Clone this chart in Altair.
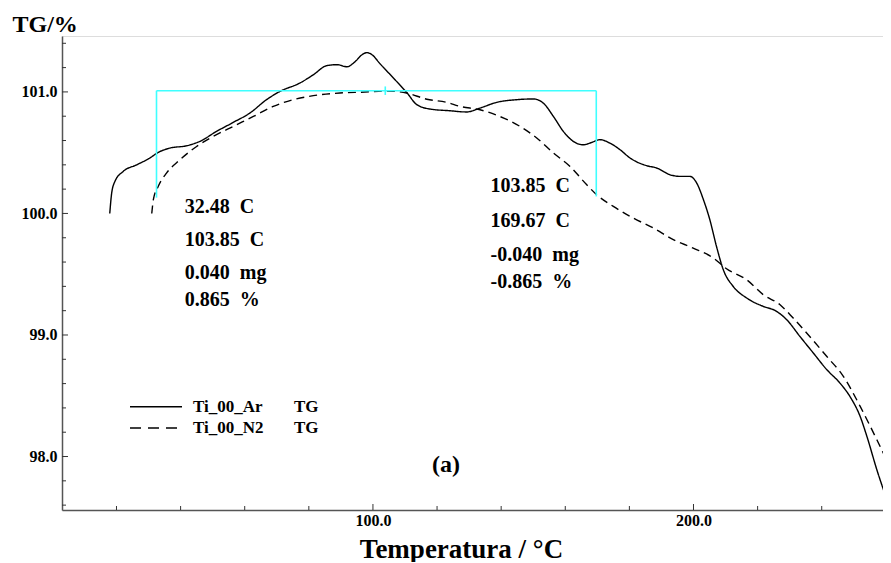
import altair as alt
import pandas as pd

# ---------------- data ----------------
ar_T = [17.9, 18.5, 19.5, 22.1, 26.3, 30.4, 33.0, 36.7, 41.9, 46.0, 51.2, 56.4, 61.6, 66.8,
        71.0, 77.2, 81.4, 85.6, 88.8, 91.9, 94.4, 96.6, 98.1, 99.7, 102.2, 106.9, 110.6,
        113.7, 117.8, 124.0, 129.2, 133.4, 138.6, 144.8, 150.0, 153.1, 156.3, 159.4, 162.5,
        165.6, 168.2, 170.8, 173.9, 177.1, 180.2, 185.4, 188.5, 192.7, 195.8, 198.9, 201.0,
        203.1, 205.1, 207.2, 209.3, 212.4, 216.6, 221.8, 225.4, 229.1, 233.2, 237.4, 241.6,
        245.7, 248.8, 252.0, 254.1, 257.2, 261.3]
ar_TG = [100.00, 100.168, 100.263, 100.346, 100.40, 100.456, 100.502, 100.538, 100.557,
         100.593, 100.675, 100.749, 100.826, 100.936, 101.004, 101.073, 101.141, 101.216,
         101.224, 101.207, 101.248, 101.306, 101.323, 101.306, 101.232, 101.100, 100.993,
         100.895, 100.859, 100.845, 100.835, 100.867, 100.914, 100.936, 100.942, 100.909,
         100.798, 100.675, 100.593, 100.565, 100.584, 100.607, 100.579, 100.524, 100.456,
         100.393, 100.374, 100.318, 100.305, 100.305, 100.250, 100.113, 99.948, 99.726,
         99.537, 99.399, 99.304, 99.235, 99.202, 99.125, 98.988, 98.851, 98.714, 98.604,
         98.494, 98.329, 98.165, 97.891, 97.575]

n2_T = [31.0, 31.5, 33.0, 35.6, 39.8, 45.0, 50.2, 56.4, 62.7, 68.9, 75.1, 81.4, 89.7, 97.5,
        104.3, 110.5, 116.8, 123.0, 127.1, 133.4, 139.6, 145.9, 151.1, 156.3, 161.5, 166.7,
        169.8, 175.0, 181.2, 187.5, 193.7, 199.9, 206.2, 210.3, 216.6, 221.8, 227.0, 231.1,
        235.3, 241.6, 246.8, 252.0, 257.2, 261.7]
n2_TG = [100.00, 100.113, 100.222, 100.332, 100.442, 100.551, 100.634, 100.716, 100.798,
         100.881, 100.936, 100.969, 100.991, 100.999, 101.008, 100.991, 100.940, 100.914,
         100.881, 100.853, 100.798, 100.716, 100.621, 100.497, 100.387, 100.236, 100.154,
         100.058, 99.962, 99.880, 99.784, 99.715, 99.633, 99.545, 99.454, 99.331, 99.249,
         99.139, 99.016, 98.823, 98.658, 98.412, 98.138, 97.891]

series_names = ["Ti_00_Ar", "Ti_00_N2"]
series_dash = [[1, 0], [8, 5]]
legend_dash = [[1, 0], [11, 7]]

# step markers (cyan bracket)
step_T = [32.48, 103.85, 169.67]
step_level = 101.01
step_low = [100.13, 100.14]

left_labels = ["32.48\u00a0 C", "103.85\u00a0 C", "0.040\u00a0 mg", "0.865\u00a0 %"]
left_label_T = 41.3
left_label_TG = [100.055, 99.784, 99.512, 99.29]
right_labels = ["103.85\u00a0 C", "169.67\u00a0 C", "-0.040\u00a0 mg", "-0.865\u00a0 %"]
right_label_T = 136.7
right_label_TG = [100.222, 99.94, 99.66, 99.432]

x_major = [100, 200]
x_minor = [20, 40, 60, 80, 120, 140, 160, 180, 220, 240, 260]
y_major = [98.0, 99.0, 100.0, 101.0]
y_minor = [97.6, 97.8, 98.2, 98.4, 98.6, 98.8, 99.2, 99.4, 99.6, 99.8,
           100.2, 100.4, 100.6, 100.8, 101.2, 101.4]

X_DOMAIN = [3, 261.3]
Y_DOMAIN = [97.56, 101.46]

W, H = 828, 474
FONT = "Liberation Serif"

# ---------------- tables ----------------
lines_df = pd.concat([
    pd.DataFrame({"T": ar_T, "TG": ar_TG, "s": series_names[0], "o": range(len(ar_T))}),
    pd.DataFrame({"T": n2_T, "TG": n2_TG, "s": series_names[1], "o": range(len(n2_T))}),
])

xs = alt.Scale(domain=X_DOMAIN, nice=False, zero=False)
ys = alt.Scale(domain=Y_DOMAIN, nice=False, zero=False)
dash_scale = alt.Scale(domain=series_names, range=series_dash)

xaxis = alt.Axis(values=x_major, format=".1f", ticks=False, grid=False,
                 labelFont=FONT, labelFontWeight="bold", labelFontSize=16,
                 labelColor="black", labelPadding=2, domainColor="#555",
                 domainWidth=1.5, title="Temperatura / °C", titleFont=FONT,
                 titleFontSize=27, titleFontWeight="bold", titleColor="black",
                 titleX=399, titleY=47, titleBaseline="alphabetic", titleAnchor="middle")
yaxis = alt.Axis(values=y_major, format=".1f", ticks=False, grid=False,
                 labelFont=FONT, labelFontWeight="bold", labelFontSize=16,
                 labelColor="black", labelPadding=5, domainColor="#555",
                 domainWidth=1.5, title="TG/%", titleFont=FONT, titleFontSize=24,
                 titleFontWeight="bold", titleColor="black", titleAngle=0,
                 titleAlign="left", titleBaseline="alphabetic", titleX=-50, titleY=-5)

curves = alt.Chart(lines_df).mark_line(color="black", strokeWidth=1.4, clip=True,
                                       interpolate="monotone").encode(
    x=alt.X("T:Q", scale=xs, axis=xaxis),
    y=alt.Y("TG:Q", scale=ys, axis=yaxis),
    order="o:Q",
    strokeDash=alt.StrokeDash("s:N", scale=dash_scale, legend=None),
)

# cyan bracket
bracket_df = pd.DataFrame({
    "T": [step_T[0], step_T[0], step_T[2], step_T[1]],
    "T2": [step_T[2], step_T[0], step_T[2], step_T[1]],
    "TG": [step_level, step_level, step_level, step_level - 0.035],
    "TG2": [step_level, step_low[0], step_low[1], step_level + 0.035],
})
bracket = alt.Chart(bracket_df).mark_rule(color="#3FFFFF", strokeWidth=1.6).encode(
    x="T:Q", x2="T2:Q", y="TG:Q", y2="TG2:Q")

# inward ticks
kx = (Y_DOMAIN[1] - Y_DOMAIN[0]) / H
xt_df = pd.DataFrame({"T": x_major + x_minor,
                      "len": [6] * len(x_major) + [4] * len(x_minor)})
xticks = alt.Chart(xt_df).transform_calculate(
    TG=f"{Y_DOMAIN[0]}", TG2=f"{Y_DOMAIN[0]} + datum.len * {kx}"
).mark_rule(color="#333", strokeWidth=1).encode(x="T:Q", y="TG:Q", y2="TG2:Q")

ky = (X_DOMAIN[1] - X_DOMAIN[0]) / W
yt_df = pd.DataFrame({"TG": y_major + y_minor,
                      "len": [6] * len(y_major) + [4] * len(y_minor)})
yticks = alt.Chart(yt_df).transform_calculate(
    T=f"{X_DOMAIN[0]}", T2=f"{X_DOMAIN[0]} + datum.len * {ky}"
).mark_rule(color="#333", strokeWidth=1).encode(y="TG:Q", x="T:Q", x2="T2:Q")

# annotation texts
ann_df = pd.DataFrame({
    "T": [left_label_T] * 4 + [right_label_T] * 4,
    "TG": left_label_TG + right_label_TG,
    "t": left_labels + right_labels,
})
ann = alt.Chart(ann_df).mark_text(align="left", baseline="middle", font=FONT,
                                  fontWeight="bold", fontSize=20, color="black").encode(
    x="T:Q", y="TG:Q", text="t:N")

# legend (drawn)
leg_rows = []
for name, dash, py in zip(series_names, legend_dash, [370.7, 392.0]):
    leg_rows.append(alt.Chart(pd.DataFrame({"s": [name]})).mark_rule(
        color="black", strokeWidth=1.4, strokeDash=dash).encode(
        x=alt.value(68), x2=alt.value(120), y=alt.value(py)))
    leg_rows.append(alt.Chart(pd.DataFrame({"s": [name]})).mark_text(
        align="left", baseline="middle", font=FONT, fontWeight="bold", fontSize=17,
        color="black").encode(x=alt.value(131), y=alt.value(py), text="s:N"))
    leg_rows.append(alt.Chart(pd.DataFrame({"s": ["TG"]})).mark_text(
        align="left", baseline="middle", font=FONT, fontWeight="bold", fontSize=17,
        color="black").encode(x=alt.value(232), y=alt.value(py), text="s:N"))

panel_label = alt.Chart(pd.DataFrame({"t": ["(a)"]})).mark_text(
    font=FONT, fontWeight="bold", fontSize=24, color="black", baseline="middle").encode(
    x=alt.value(384), y=alt.value(429), text="t:N")

chart = alt.layer(curves, bracket, xticks, yticks, ann, *leg_rows,
                  panel_label).properties(
    width=W, height=H,
    autosize=alt.AutoSizeParams(type="none"),
    padding={"left": 54, "top": 28, "right": -7, "bottom": 52},
).configure_view(stroke=None).configure(background="white")

chart.save("out.html", embed_options={"renderer": "svg", "actions": False})
